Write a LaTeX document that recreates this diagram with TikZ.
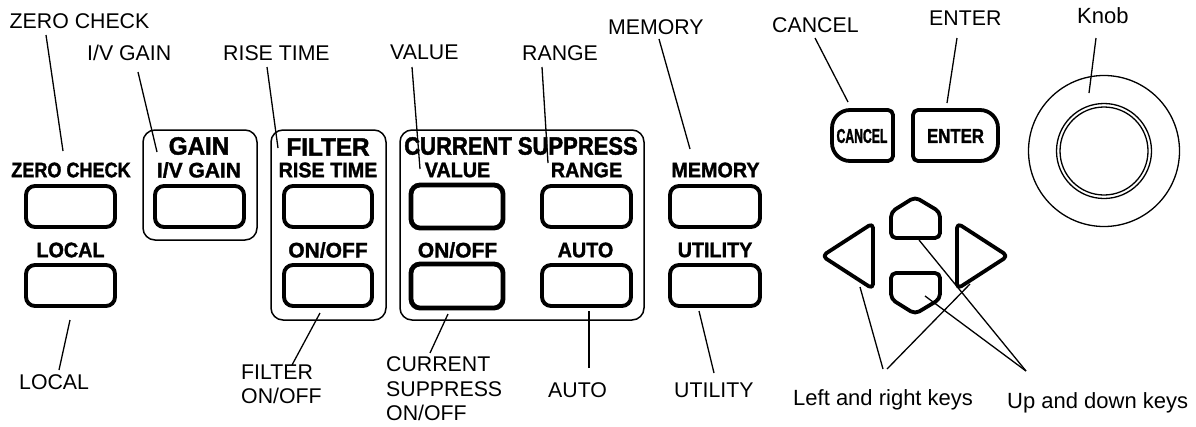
\documentclass[tikz,border=0pt]{standalone}
\usepackage{fontspec}
\setmainfont{Liberation Sans}
\newfontfamily\zerofont[FakeBold=1.5,FakeStretch=.86]{Liberation Sans Bold}
\newfontfamily\panelfont[FakeBold=1.5,FakeStretch=.94]{Liberation Sans Bold}
\newfontfamily\widefont[FakeBold=1.5,FakeStretch=1.0]{Liberation Sans Bold}
\newfontfamily\headfont[FakeBold=1.8,FakeStretch=.88]{Liberation Sans Bold}
\newfontfamily\headwidefont[FakeBold=1.8,FakeStretch=.97]{Liberation Sans Bold}
\newfontfamily\cancelfont[FakeBold=1.4,FakeStretch=.61]{Liberation Sans Bold}
\newfontfamily\enterfont[FakeBold=1.4,FakeStretch=.84]{Liberation Sans Bold}
\begin{document}
\begin{tikzpicture}[x=1pt,y=-1pt,
  btn/.style={draw=black,line width=3.9pt,rounded corners=9pt,fill=white},
  btnthick/.style={btn,line width=4.8pt},
  group/.style={draw=black,line width=1.5pt,rounded corners=12pt},
  lead/.style={draw=black,line width=1.3pt},
  call/.style={font=\fontsize{21.3pt}{24.4pt}\selectfont,inner sep=0pt,align=left},
  callb/.style={font=\fontsize{22pt}{24pt}\selectfont,inner sep=0pt,align=left},
  tag/.style={font=\panelfont\fontsize{21pt}{21pt}\selectfont,inner sep=0pt},
  tagzero/.style={font=\zerofont\fontsize{21pt}{21pt}\selectfont,inner sep=0pt},
  tagwide/.style={font=\widefont\fontsize{21pt}{21pt}\selectfont,inner sep=0pt},
  head/.style={font=\headfont\fontsize{25pt}{25pt}\selectfont,inner sep=0pt},
  headwide/.style={font=\headwidefont\fontsize{25pt}{25pt}\selectfont,inner sep=0pt},
  key/.style={draw=black,line width=3.8pt,rounded corners=5pt,line join=round}]
\useasboundingbox (0,0) rectangle (1196,426);
% group frames
\draw[group] (143,130) rectangle (257,240);
\draw[group] (271,130) rectangle (386,320);
\draw[group] (400,130) rectangle (644,320);
% buttons
\path[btn] (26,186) rectangle (115,227);
\path[btn] (26,265) rectangle (115,306);
\path[btn] (155,186) rectangle (244,227);
\path[btn] (284,186) rectangle (372,227);
\path[btn] (284,265) rectangle (372,306);
\path[btnthick] (411,185) rectangle (503,228);
\path[btnthick] (411,264) rectangle (503,308);
\path[btn] (542,186) rectangle (631,227);
\path[btn] (542,265) rectangle (631,306);
\path[btn] (670,186) rectangle (760,227);
\path[btn] (670,265) rectangle (760,306);
% panel texts
\node[tagzero] (tzero) at (71,170) {ZERO CHECK};
\node[tag] (tlocal) at (70.5,250) {LOCAL};
\node[headwide] (tgain) at (199,146) {GAIN};
\node[tagwide] (tiv) at (199,170) {I/V GAIN};
\node[headwide] (tfilter) at (328,147) {FILTER};
\node[tag] (trise) at (328,170) {RISE TIME};
\node[tagwide] (ton) at (328,250) {ON/OFF};
\node[head] (tcs) at (521,146) {CURRENT SUPPRESS};
\node[tag] (tval) at (457.5,170) {VALUE};
\node[tag] (trange) at (586.5,170) {RANGE};
\node[tagwide] (ton2) at (457.5,250) {ON/OFF};
\node[tag] (tauto) at (585.5,250) {AUTO};
\node[tag] (tmem) at (715.5,170) {MEMORY};
\node[tag] (tutil) at (715,250) {UTILITY};
% cancel / enter
\draw[line width=3.8pt,line join=round,rounded corners=5pt] (862,110) -- (893,110) -- (893,161) -- (862,161) [rounded corners=18pt] -- (832,161) -- (832,110) -- (862,110);
\draw[line width=3.8pt,line join=round,rounded corners=5pt] (955,110) -- (913,110) -- (913,161) -- (955,161) [rounded corners=18pt] -- (998,161) -- (998,110) -- (955,110);
\node[inner sep=0pt,font=\cancelfont\fontsize{20pt}{20pt}\selectfont] (tcancel) at (862,136) {CANCEL};
\node[inner sep=0pt,font=\enterfont\fontsize{20pt}{20pt}\selectfont] (tenter) at (955.5,136) {ENTER};
% knob
\draw[line width=1.3pt] (1104,151) circle[radius=75.5];
\draw[line width=1.3pt] (1104,151) circle[radius=47.5];
\draw[line width=1.3pt] (1104,151) circle[radius=44];
% arrow keys
\draw[key] (915,197) -- (940,212) -- (940,238) -- (891,238) -- (891,212) -- cycle;
\draw[key] (891,273) -- (940,273) -- (940,299) -- (915,314) -- (891,299) -- cycle;
\draw[key] (873,223) -- (873,289) -- (822,256) -- cycle;
\draw[key] (957,223) -- (957,289) -- (1008,256) -- cycle;
% callout labels
\node[call,anchor=west] (lzero) at (9.5,21) {ZERO CHECK};
\node[call,anchor=west] (liv) at (87,53) {I/V GAIN};
\node[call,anchor=west] (lrise) at (223,53) {RISE TIME};
\node[call,anchor=west] (lval) at (390,52) {VALUE};
\node[call,anchor=west] (lrange) at (522,53) {RANGE};
\node[call,anchor=west] (lmem) at (608,27) {MEMORY};
\node[call,anchor=west] (lcancel) at (772,25) {CANCEL};
\node[call,anchor=west] (lenter) at (929,18) {ENTER};
\node[callb,anchor=west] (lknob) at (1077,16) {Knob};
\node[call,anchor=west] (llocal) at (19,382) {LOCAL};
\node[call,anchor=west] (lfilter) at (241,384) {FILTER\\ON/OFF};
\node[call,anchor=west] (lcurrent) at (386,389) {CURRENT\\SUPPRESS\\ON/OFF};
\node[call,anchor=west] (lauto) at (548,390) {AUTO};
\node[call,anchor=west] (lutility) at (674,390) {UTILITY};
\node[callb,anchor=west] (llr) at (793,400) {Left and right keys};
\node[callb,anchor=west] (lud) at (1007,403) {Up and down keys};
% leader ends
\foreach \n/\x/\y in {a0/46/35,a1/63/151,b0/138/72,b1/157/152,c0/267/67,c1/278/148,d0/412/67,d1/420/169,e0/542/67,e1/548/163,f0/659/39,f1/690/149,g0/815/38,g1/848/102,h0/957/38,h1/947/103,i0/1096/38,i1/1089/93,j0/59/370,j1/70/320,k0/292/365,k1/320/313,l0/430/353,l1/448/314,m0/589/368,m1/589/311,n0/714/373,n1/699/311,o0/883/369,o1/860/287,o3/887/369,o2/970/284,p0/1026/371,p1/919/240,p2/925/296}
  \coordinate (\n) at (\x,\y);
\foreach \s/\t in {a0/a1,b0/b1,c0/c1,d0/d1,e0/e1,f0/f1,g0/g1,h0/h1,i0/i1,j0/j1,k0/k1,l0/l1,m0/m1,n0/n1,o0/o1,o3/o2,p0/p1,p0/p2}
  \draw[lead] (\s) -- (\t);
\end{tikzpicture}
\end{document}
